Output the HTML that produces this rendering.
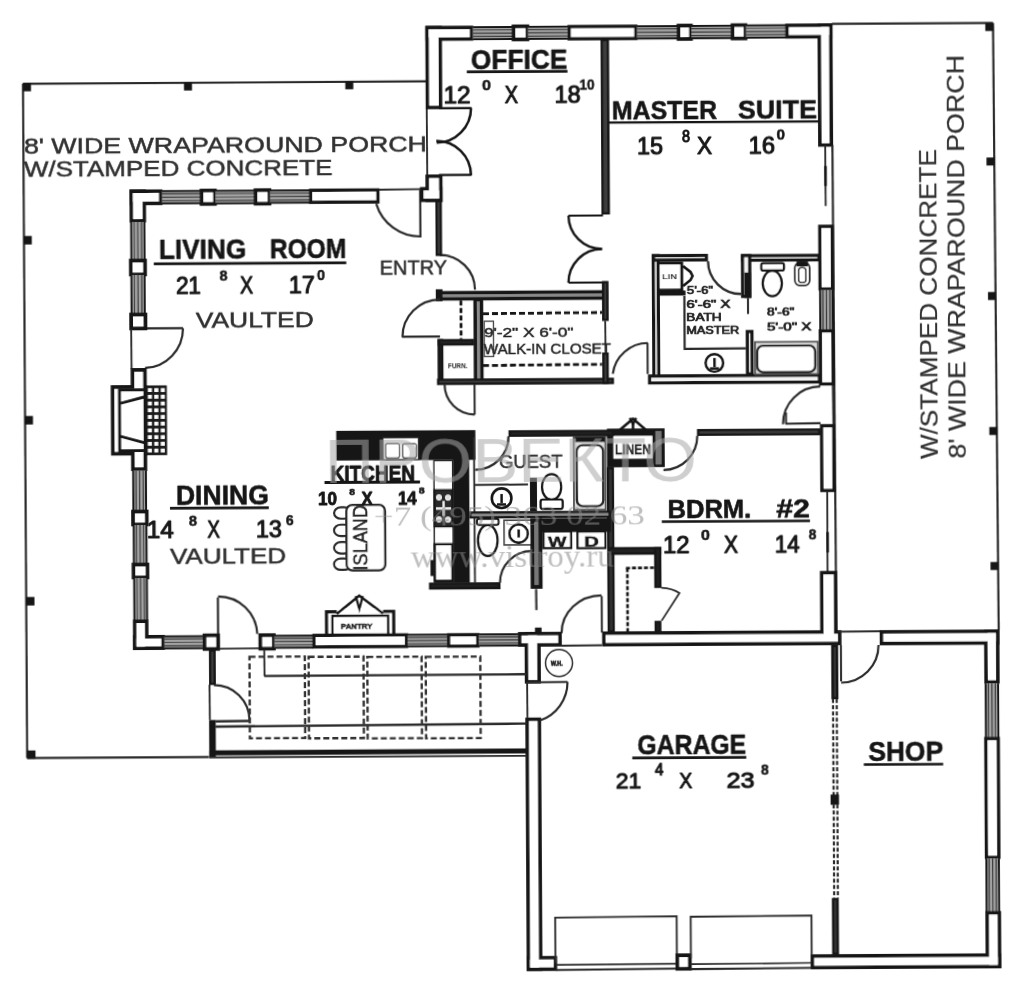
<!DOCTYPE html>
<html lang="en">
<head>
<meta charset="utf-8">
<title>Floor plan</title>
<style>
html,body{margin:0;padding:0;background:#fff;}
body{width:1022px;height:1000px;overflow:hidden;font-family:"Liberation Sans",sans-serif;}
svg{display:block;}
text{white-space:pre;}
</style>
</head>
<body>
<svg width="1022" height="1000" viewBox="0 0 1022 1000">
<defs>
<filter id="soft" x="-2%" y="-2%" width="104%" height="104%"><feGaussianBlur stdDeviation="0.7"/></filter>
</defs>
<rect width="1022" height="1000" fill="#fff"/>
<g transform="rotate(-0.3151 511 500)" filter="url(#soft)">
<path d="M25.29 81.12 L428.3 80.93" fill="none" stroke="#2a2a2a" stroke-width="2.17" stroke-linecap="butt" stroke-linejoin="miter"/>
<path d="M25.29 81.12 L25.78 755.34" fill="none" stroke="#2a2a2a" stroke-width="2.17" stroke-linecap="butt" stroke-linejoin="miter"/>
<path d="M25.78 755.34 L207.59 755.34" fill="none" stroke="#2a2a2a" stroke-width="2.17" stroke-linecap="butt" stroke-linejoin="miter"/>
<rect x="25.27" y="80.34" width="8" height="8.3" fill="#151515" />
<rect x="186.27" y="80.72" width="8" height="8" fill="#151515" />
<rect x="347.58" y="80.41" width="8" height="8" fill="#151515" />
<rect x="25.23" y="233.34" width="8" height="8.5" fill="#151515" />
<rect x="25.44" y="413.35" width="8" height="8.5" fill="#151515" />
<rect x="25.74" y="594.36" width="8.2" height="8.5" fill="#151515" />
<rect x="25.6" y="747.86" width="8.5" height="8.3" fill="#151515" />
<path d="M834.62 25.67 L995.62 25.65" fill="none" stroke="#2a2a2a" stroke-width="2.17" stroke-linecap="butt" stroke-linejoin="miter"/>
<path d="M995.62 25.65 L997.99 632.68" fill="none" stroke="#2a2a2a" stroke-width="2.17" stroke-linecap="butt" stroke-linejoin="miter"/>
<rect x="987.9" y="25.63" width="8.2" height="8" fill="#151515" />
<rect x="988.36" y="160.14" width="8" height="8" fill="#151515" />
<rect x="989.12" y="294.65" width="8" height="8" fill="#151515" />
<rect x="989.68" y="429.65" width="8" height="8" fill="#151515" />
<rect x="990.14" y="564.66" width="8" height="8" fill="#151515" />
<path d="M421.87 189.5 L421.87 237" fill="none" stroke="#2a2a2a" stroke-width="2.17" stroke-linecap="butt" stroke-linejoin="miter"/>
<path d="M422 236 A46 46 0 0 1 377.9 203.07" fill="none" stroke="#2a2a2a" stroke-width="2.17"/>
<path d="M145.94 326.39 L183.94 326.39" fill="none" stroke="#2a2a2a" stroke-width="2.17" stroke-linecap="butt" stroke-linejoin="miter"/>
<path d="M183.94 326.48 A39.5 39.5 0 0 1 145.82 365.95" fill="none" stroke="#2a2a2a" stroke-width="2.17"/>
<path d="M217.36 595.89 L217.36 633.39" fill="none" stroke="#2a2a2a" stroke-width="2.17" stroke-linecap="butt" stroke-linejoin="miter"/>
<path d="M217.55 594.89 A39 39 0 0 1 256.53 632.53" fill="none" stroke="#2a2a2a" stroke-width="2.17"/>
<path d="M428.87 107.54 L429.07 174.54" fill="none" stroke="#2a2a2a" stroke-width="1.86" stroke-linecap="butt" stroke-linejoin="miter"/>
<path d="M441.15 107.89 L473.65 107.89" fill="none" stroke="#151515" stroke-width="2.4" stroke-linecap="butt" stroke-linejoin="miter"/>
<path d="M473.15 107.79 A34.5 34.5 0 0 1 438.65 142.29" fill="none" stroke="#151515" stroke-width="2.5"/>
<path d="M440.79 174.69 L473.29 174.69" fill="none" stroke="#151515" stroke-width="2.2" stroke-linecap="butt" stroke-linejoin="miter"/>
<path d="M472.79 174.99 A34.5 34.5 0 0 0 438.29 140.49" fill="none" stroke="#151515" stroke-width="2.5"/>
<rect x="604.2" y="40.67" width="6.2" height="173.2" fill="#3c3c3c" stroke="#151515" stroke-width="2.3" />
<path d="M570.06 215.91 L604.56 215.91" fill="none" stroke="#151515" stroke-width="2" stroke-linecap="butt" stroke-linejoin="miter"/>
<path d="M570.06 216 A33.5 33.5 0 0 0 603.56 249.5" fill="none" stroke="#151515" stroke-width="2.4"/>
<path d="M569.7 282.91 L604.2 282.91" fill="none" stroke="#151515" stroke-width="2" stroke-linecap="butt" stroke-linejoin="miter"/>
<path d="M569.7 283 A33.5 33.5 0 0 1 603.2 249.5" fill="none" stroke="#151515" stroke-width="2.4"/>
<path d="M610.08 123.13 L821.08 123.09" fill="none" stroke="#151515" stroke-width="2.4" stroke-linecap="butt" stroke-linejoin="miter"/>
<path d="M441.15 254.61 A35 35 0 0 1 476.15 289.61" fill="none" stroke="#2a2a2a" stroke-width="2.17"/>
<rect x="438.83" y="292.36" width="168.6" height="6.2" fill="#8c8c8c" stroke="#151515" stroke-width="3.4" />
<rect x="436.93" y="288.9" width="6.7" height="12" fill="#151515" />
<path d="M402.9 336.11 L440.9 336.11" fill="none" stroke="#2a2a2a" stroke-width="2.33" stroke-linecap="butt" stroke-linejoin="miter"/>
<path d="M403.4 336.61 A37.5 37.5 0 0 1 440.9 299.11" fill="none" stroke="#2a2a2a" stroke-width="2.17"/>
<rect x="439.51" y="339.76" width="3.5" height="42.7" fill="#222" stroke="#151515" stroke-width="2.3" />
<rect x="476.17" y="299.52" width="6.4" height="82.6" fill="#8c8c8c" stroke="#151515" stroke-width="3.4" />
<rect x="439.62" y="339.85" width="34.1" height="4.3" fill="#222" stroke="#151515" stroke-width="2.3" />
<path d="M461.99 300.23 L461.99 338.73" fill="none" stroke="#151515" stroke-width="2.8" stroke-linecap="butt" stroke-linejoin="miter" stroke-dasharray="5 2.5"/>
<rect x="438.8" y="379.43" width="174.7" height="4.1" fill="#3c3c3c" stroke="#151515" stroke-width="2.3" />
<rect x="604.24" y="282.67" width="4.3" height="37.7" fill="#3c3c3c" stroke="#151515" stroke-width="2.3" />
<path d="M606.2 321.52 L606.4 353.02" fill="none" stroke="#2a2a2a" stroke-width="1.86" stroke-linecap="butt" stroke-linejoin="miter"/>
<rect x="604.17" y="354.17" width="4.2" height="29.2" fill="#3c3c3c" stroke="#151515" stroke-width="2.3" />
<path d="M484.03 313.57 L603.03 312.97" fill="none" stroke="#151515" stroke-width="2.8" stroke-linecap="butt" stroke-linejoin="miter" stroke-dasharray="6 3"/>
<path d="M483.74 365.37 L602.74 364.77" fill="none" stroke="#151515" stroke-width="2.8" stroke-linecap="butt" stroke-linejoin="miter" stroke-dasharray="6 3"/>
<rect x="485.14" y="321.13" width="9.3" height="35.3" fill="none" stroke="#444" stroke-width="1.3" />
<path d="M475.15 383.8 L475.15 414.3" fill="none" stroke="#2a2a2a" stroke-width="2.02" stroke-linecap="butt" stroke-linejoin="miter"/>
<path d="M475.24 414.3 A30 30 0 0 1 445.24 384.3" fill="none" stroke="#2a2a2a" stroke-width="2.17"/>
<rect x="654.6" y="256.4" width="4.8" height="126.6" fill="#f2f2f2" stroke="#151515" stroke-width="3.2" />
<rect x="654.93" y="256.53" width="52.8" height="4.4" fill="#f2f2f2" stroke="#151515" stroke-width="3.2" />
<rect x="743.93" y="257.08" width="76.3" height="4.4" fill="#f2f2f2" stroke="#151515" stroke-width="3.2" />
<rect x="650.27" y="376.83" width="169.8" height="6.8" fill="#f2f2f2" stroke="#151515" stroke-width="3.2" />
<path d="M709.31 262.26 A33 33 0 0 0 742.31 295.26" fill="none" stroke="#2a2a2a" stroke-width="2.33"/>
<rect x="743.83" y="256.89" width="7.2" height="40.8" fill="#f2f2f2" stroke="#151515" stroke-width="3.2" />
<rect x="745.68" y="273.8" width="6.5" height="25.5" fill="#151515" />
<path d="M749.07 299.3 L749.07 315.3" fill="none" stroke="#2a2a2a" stroke-width="2.02" stroke-linecap="butt" stroke-linejoin="miter"/>
<rect x="659.63" y="263.88" width="23.4" height="27" fill="#fff" stroke="#151515" stroke-width="2.8" />
<path d="M684.23 266.97 L691.73 272.97 L693.73 276.97 L691.73 280.97 L684.23 286.97" fill="none" stroke="#151515" stroke-width="2.63" stroke-linecap="butt" stroke-linejoin="miter"/>
<rect x="659.14" y="291.48" width="27.5" height="5" fill="#151515" />
<path d="M685.48 297.12 L685.48 349.92 L746.78 349.62" fill="none" stroke="#2a2a2a" stroke-width="2.17" stroke-linecap="butt" stroke-linejoin="miter"/>
<circle cx="715.15" cy="364.12" r="8.8" fill="none" stroke="#151515" stroke-width="2.4"/>
<path d="M715.26 359.12 L715.26 368.12" fill="none" stroke="#151515" stroke-width="2.48" stroke-linecap="butt" stroke-linejoin="miter"/>
<path d="M710.72 369.62 L719.72 369.62" fill="none" stroke="#151515" stroke-width="2.48" stroke-linecap="butt" stroke-linejoin="miter"/>
<rect x="748.21" y="332.91" width="4.6" height="42.3" fill="#f2f2f2" stroke="#151515" stroke-width="3.2" />
<ellipse cx="773.49" cy="284.84" rx="9.6" ry="12.8" fill="none" stroke="#151515" stroke-width="2.2"/>
<rect x="762.58" y="264.54" width="22.6" height="7.4" fill="#fff" stroke="#151515" stroke-width="2.2" rx="2" />
<rect x="796.14" y="264.5" width="14.7" height="22.6" fill="#fff" stroke="#2a2a2a" stroke-width="1.8" rx="5" />
<rect x="799.79" y="269.35" width="7.3" height="14.9" fill="#fff" stroke="#2a2a2a" stroke-width="1.5" rx="3" />
<rect x="797.8" y="263.1" width="11.5" height="5" fill="#151515" />
<rect x="755.88" y="343.42" width="62.8" height="32.2" fill="#ddd" stroke="#555" stroke-width="1.8" />
<rect x="757.98" y="347.11" width="58" height="26.6" fill="#fff" stroke="#2a2a2a" stroke-width="2.4" rx="6" />
<path d="M648.38 343.75 L648.38 374.75" fill="none" stroke="#2a2a2a" stroke-width="2.02" stroke-linecap="butt" stroke-linejoin="miter"/>
<path d="M648.67 343.75 A35.5 35.5 0 0 0 613.51 374.31" fill="none" stroke="#2a2a2a" stroke-width="2.17"/>
<path d="M833.42 386.77 L833.82 426.77" fill="none" stroke="#2a2a2a" stroke-width="1.86" stroke-linecap="butt" stroke-linejoin="miter"/>
<path d="M785.92 425.21 L820.92 424.91" fill="none" stroke="#2a2a2a" stroke-width="2.17" stroke-linecap="butt" stroke-linejoin="miter"/>
<path d="M786.45 414.01 L786.45 425.51" fill="none" stroke="#2a2a2a" stroke-width="2.02" stroke-linecap="butt" stroke-linejoin="miter"/>
<path d="M783.42 425.7 A37.5 37.5 0 0 1 820.92 388.2" fill="none" stroke="#2a2a2a" stroke-width="2.17"/>
<rect x="698.52" y="431.21" width="121.2" height="4.6" fill="#3c3c3c" stroke="#151515" stroke-width="2.3" />
<path d="M697.65 436.84 A34 34 0 0 1 663.65 470.84" fill="none" stroke="#2a2a2a" stroke-width="2.17"/>
<rect x="607.29" y="429.19" width="57.7" height="38.7" fill="#151515" />
<rect x="613.69" y="436.47" width="39.1" height="22.8" fill="#fff" />
<rect x="655.79" y="431.81" width="6" height="33.5" fill="#777" />
<path d="M616.91 433.27 L633.41 419.37 L649.21 433.27" fill="none" stroke="#151515" stroke-width="2.63" stroke-linecap="butt" stroke-linejoin="miter"/>
<path d="M630.23 418.67 L633.43 424.67 L636.63 418.67" fill="none" stroke="#151515" stroke-width="2.4" stroke-linecap="butt" stroke-linejoin="miter"/>
<path d="M633.4 423.67 L633.4 430.67" fill="none" stroke="#151515" stroke-width="2.6" stroke-linecap="butt" stroke-linejoin="miter"/>
<rect x="608.08" y="468.7" width="4.9" height="163.2" fill="#333" stroke="#151515" stroke-width="2.3" />
<rect x="608.27" y="548.83" width="51.7" height="5.5" fill="#222" stroke="#151515" stroke-width="2.3" />
<rect x="654.98" y="548.96" width="4.9" height="38.7" fill="#222" stroke="#151515" stroke-width="2.3" />
<rect x="655.05" y="622.76" width="4.5" height="9.9" fill="#222" stroke="#151515" stroke-width="2.3" />
<path transform="translate(660.92 588.63)" d="M0 0 Q11 0.5 18 5.4 L0 33" fill="none" stroke="#2a2a2a" stroke-width="1.8" />
<path d="M625.63 568.71 L654.13 568.51" fill="none" stroke="#151515" stroke-width="2.6" stroke-linecap="butt" stroke-linejoin="miter" stroke-dasharray="4 2"/>
<path d="M626.95 568.64 L626.95 632.64" fill="none" stroke="#151515" stroke-width="2.6" stroke-linecap="butt" stroke-linejoin="miter" stroke-dasharray="4 2"/>
<path d="M601.17 596.5 L601.17 633" fill="none" stroke="#2a2a2a" stroke-width="2.02" stroke-linecap="butt" stroke-linejoin="miter"/>
<path transform="translate(600.87 633.4)" d="M-40 0 A40 37.6 0 0 1 0 -37.6" fill="none" stroke="#2a2a2a" stroke-width="2.17" />
<rect x="336.6" y="429.92" width="139.1" height="29.7" fill="#151515" />
<rect x="383.38" y="437.29" width="35.3" height="21.7" fill="#fff" stroke="#333" stroke-width="1.2" />
<rect x="385.87" y="442.95" width="13.8" height="14.3" fill="#fff" stroke="#333" stroke-width="1.2" rx="2" />
<rect x="402.87" y="443.04" width="13.8" height="14.3" fill="#fff" stroke="#333" stroke-width="1.2" rx="2" />
<rect x="453.26" y="431.53" width="16.1" height="150.8" fill="#151515" />
<path d="M474.25 436.8 L474.55 582.2" fill="none" stroke="#2a2a2a" stroke-width="1.86" stroke-linecap="butt" stroke-linejoin="miter"/>
<rect x="429.68" y="583.3" width="69.2" height="4.7" fill="#222" stroke="#151515" stroke-width="2.3" />
<rect x="434.18" y="460.33" width="18.6" height="121.2" fill="#fff" stroke="#151515" stroke-width="1.4" />
<rect x="434.45" y="489.53" width="18.2" height="36.7" fill="#2a2a2a" stroke="#151515" stroke-width="1.8" />
<circle cx="439.01" cy="497.1" r="2.4" fill="#ddd" stroke="#eee" stroke-width="1.2"/>
<circle cx="448.01" cy="497.15" r="2.4" fill="#ddd" stroke="#eee" stroke-width="1.2"/>
<circle cx="438.89" cy="519.1" r="2.4" fill="#ddd" stroke="#eee" stroke-width="1.2"/>
<circle cx="447.89" cy="519.15" r="2.4" fill="#ddd" stroke="#eee" stroke-width="1.2"/>
<path d="M435.95 508.13 L450.95 508.13" fill="none" stroke="#eee" stroke-width="2.4" stroke-linecap="butt" stroke-linejoin="miter"/>
<path d="M443.55 500.63 L443.55 515.63" fill="none" stroke="#eee" stroke-width="2.4" stroke-linecap="butt" stroke-linejoin="miter"/>
<rect x="434.46" y="543.83" width="17.6" height="36.6" fill="#fff" stroke="#151515" stroke-width="2.4" />
<rect x="430.13" y="559.57" width="3.5" height="16" fill="#151515" />
<rect x="334.03" y="506.37" width="16.8" height="11.4" fill="#fff" stroke="#2a2a2a" stroke-width="2.2" rx="6.8" />
<rect x="333.93" y="523.77" width="16.8" height="11.4" fill="#fff" stroke="#2a2a2a" stroke-width="2.2" rx="6.8" />
<rect x="333.84" y="541.17" width="16.8" height="11.4" fill="#fff" stroke="#2a2a2a" stroke-width="2.2" rx="6.8" />
<rect x="333.75" y="557.57" width="16.8" height="11.4" fill="#fff" stroke="#2a2a2a" stroke-width="2.2" rx="6.8" />
<rect x="346.24" y="504.15" width="38.7" height="65.5" fill="#fff" stroke="#2a2a2a" stroke-width="2.3" rx="6" />
<rect x="325.92" y="610.77" width="67.1" height="24.3" fill="#fff" stroke="#151515" stroke-width="3.2" />
<rect x="336.38" y="608.17" width="46" height="6" fill="#fff" />
<rect x="331.81" y="614.97" width="55.7" height="20" fill="#fff" stroke="#151515" stroke-width="2.4" />
<path d="M336.12 613.07 L358.72 594.77 L382.42 612.67" fill="none" stroke="#151515" stroke-width="2.48" stroke-linecap="butt" stroke-linejoin="miter"/>
<path d="M355.24 595.17 L358.74 608.17 L362.24 595.17" fill="none" stroke="#151515" stroke-width="2.2" stroke-linecap="butt" stroke-linejoin="miter"/>
<rect x="510.02" y="431.43" width="103.2" height="4.3" fill="#222" stroke="#151515" stroke-width="2.3" />
<path d="M508.85 436.2 A33.5 33.5 0 0 1 475.35 469.7" fill="none" stroke="#2a2a2a" stroke-width="2.33"/>
<path d="M474.58 484.75 L528.08 484.55" fill="none" stroke="#2a2a2a" stroke-width="2.02" stroke-linecap="butt" stroke-linejoin="miter"/>
<circle cx="501.61" cy="498.15" r="9.8" fill="none" stroke="#151515" stroke-width="2.6"/>
<path d="M501.61 493.95 L501.61 502.95" fill="none" stroke="#151515" stroke-width="2.48" stroke-linecap="butt" stroke-linejoin="miter"/>
<path d="M496.98 504.45 L505.98 504.45" fill="none" stroke="#151515" stroke-width="2.48" stroke-linecap="butt" stroke-linejoin="miter"/>
<rect x="470.47" y="512.31" width="139.1" height="4.9" fill="#8a8a8a" stroke="#151515" stroke-width="2.3" />
<rect x="530.03" y="477.92" width="7" height="33.2" fill="#151515" />
<ellipse cx="551.67" cy="487.22" rx="9.6" ry="12.8" fill="none" stroke="#151515" stroke-width="2.2"/>
<rect x="540.58" y="499.82" width="22.1" height="9.3" fill="#fff" stroke="#151515" stroke-width="2.2" rx="2" />
<rect x="573.95" y="437.73" width="31.7" height="72.4" fill="#ddd" stroke="#555" stroke-width="1.8" />
<rect x="575.33" y="437.43" width="30" height="5" fill="#151515" />
<rect x="576.93" y="445.63" width="26.4" height="61" fill="#fff" stroke="#2a2a2a" stroke-width="2.4" rx="6" />
<rect x="539.66" y="518.55" width="71" height="13.8" fill="#151515" />
<rect x="543.28" y="531.85" width="27.6" height="16.5" fill="#fff" stroke="#151515" stroke-width="2.2" />
<rect x="577.28" y="532.04" width="27.8" height="16.5" fill="#fff" stroke="#151515" stroke-width="2.2" />
<ellipse cx="487.58" cy="540.37" rx="9.8" ry="15.5" fill="none" stroke="#151515" stroke-width="2.2"/>
<rect x="476.88" y="518.87" width="21.6" height="6" fill="#fff" stroke="#151515" stroke-width="2" rx="2" />
<rect x="503.92" y="520.24" width="27.1" height="24.7" fill="#fff" stroke="#444" stroke-width="1.6" />
<circle cx="518.42" cy="533.64" r="9.2" fill="none" stroke="#151515" stroke-width="2.6"/>
<path d="M518.42 529.54 L518.42 537.54" fill="none" stroke="#151515" stroke-width="2.79" stroke-linecap="butt" stroke-linejoin="miter"/>
<path d="M499.55 582.71 A31.5 31.5 0 0 1 531.05 551.21" fill="none" stroke="#2a2a2a" stroke-width="2.17"/>
<rect x="532.11" y="520.34" width="8.1" height="66.7" fill="#777" stroke="#151515" stroke-width="3.8" />
<path d="M535.65 589.14 L535.85 610.14" fill="none" stroke="#444" stroke-width="2.48" stroke-linecap="butt" stroke-linejoin="miter"/>
<rect x="534.28" y="627.75" width="6.6" height="5.6" fill="#151515" />
<rect x="427.88" y="25.46" width="48" height="15" fill="#151515"/>
<rect x="427.88" y="25.46" width="16.6" height="83.3" fill="#151515"/>
<rect x="431.38" y="28.96" width="41" height="8" fill="#fff"/>
<rect x="431.38" y="28.96" width="9.6" height="76.3" fill="#fff"/>
<rect x="475.57" y="27.1" width="40" height="12" fill="#a2a2a2"/>
<path d="M475.57 29.77 H515.57" stroke="#3a3a3a" stroke-width="1.2"/>
<path d="M475.57 33.1 H515.57" stroke="#3a3a3a" stroke-width="1.2"/>
<path d="M475.57 36.43 H515.57" stroke="#3a3a3a" stroke-width="1.2"/>
<path d="M475.57 27.1 H515.57 M475.57 39.1 H515.57" stroke="#151515" stroke-width="2"/>
<rect x="516.12" y="26.4" width="13.9" height="13.1" fill="#fff" stroke="#151515" stroke-width="3.7" />
<rect x="530.57" y="26.9" width="40" height="12.1" fill="#a2a2a2"/>
<path d="M530.57 29.59 H570.57" stroke="#3a3a3a" stroke-width="1.2"/>
<path d="M530.57 32.95 H570.57" stroke="#3a3a3a" stroke-width="1.2"/>
<path d="M530.57 36.32 H570.57" stroke="#3a3a3a" stroke-width="1.2"/>
<path d="M530.57 26.9 H570.57 M530.57 39 H570.57" stroke="#151515" stroke-width="2"/>
<rect x="571.72" y="26.95" width="66.7" height="12.2" fill="#fff" stroke="#151515" stroke-width="3.3" />
<rect x="639.57" y="27.01" width="41" height="12.3" fill="#a2a2a2"/>
<path d="M639.57 29.72 H680.57" stroke="#3a3a3a" stroke-width="1.2"/>
<path d="M639.57 33.16 H680.57" stroke="#3a3a3a" stroke-width="1.2"/>
<path d="M639.57 36.59 H680.57" stroke="#3a3a3a" stroke-width="1.2"/>
<path d="M639.57 27.01 H680.57 M639.57 39.31 H680.57" stroke="#151515" stroke-width="2"/>
<rect x="681.12" y="26.51" width="12.4" height="13.4" fill="#fff" stroke="#151515" stroke-width="3.7" />
<rect x="694.07" y="26.9" width="40.5" height="12.4" fill="#a2a2a2"/>
<path d="M694.07 29.64 H734.57" stroke="#3a3a3a" stroke-width="1.2"/>
<path d="M694.07 33.1 H734.57" stroke="#3a3a3a" stroke-width="1.2"/>
<path d="M694.07 36.57 H734.57" stroke="#3a3a3a" stroke-width="1.2"/>
<path d="M694.07 26.9 H734.57 M694.07 39.3 H734.57" stroke="#151515" stroke-width="2"/>
<rect x="735.13" y="26.4" width="12.9" height="13.3" fill="#fff" stroke="#151515" stroke-width="3.7" />
<rect x="748.58" y="26.8" width="40" height="12.1" fill="#a2a2a2"/>
<path d="M748.58 29.49 H788.58" stroke="#3a3a3a" stroke-width="1.2"/>
<path d="M748.58 32.85 H788.58" stroke="#3a3a3a" stroke-width="1.2"/>
<path d="M748.58 36.22 H788.58" stroke="#3a3a3a" stroke-width="1.2"/>
<path d="M748.58 26.8 H788.58 M748.58 38.9 H788.58" stroke="#151515" stroke-width="2"/>
<rect x="787.78" y="25.14" width="47.3" height="15" fill="#151515"/>
<rect x="820.08" y="25.14" width="15" height="123.3" fill="#151515"/>
<rect x="791.28" y="28.64" width="40.3" height="8" fill="#fff"/>
<rect x="823.58" y="28.64" width="8" height="116.3" fill="#fff"/>
<path d="M834.35 146.77 L835.67 633.79" fill="none" stroke="#2a2a2a" stroke-width="2.17" stroke-linecap="butt" stroke-linejoin="miter"/>
<path d="M827.15 146.73 L827.32 207.73" fill="none" stroke="#2a2a2a" stroke-width="1.86" stroke-linecap="butt" stroke-linejoin="miter"/>
<path d="M827.24 167.73 L827.23 187.73" fill="none" stroke="#151515" stroke-width="2.6" stroke-linecap="butt" stroke-linejoin="miter"/>
<rect x="821.28" y="228.08" width="12.4" height="62.5" fill="#fff" stroke="#151515" stroke-width="3.3" />
<rect x="821.25" y="291.73" width="12.5" height="39.7" fill="#a2a2a2"/>
<path d="M824 291.73 V331.43" stroke="#3a3a3a" stroke-width="1.2"/>
<path d="M827.5 291.73 V331.43" stroke="#3a3a3a" stroke-width="1.2"/>
<path d="M831 291.73 V331.43" stroke="#3a3a3a" stroke-width="1.2"/>
<path d="M821.25 291.73 V331.43 M833.75 291.73 V331.43" stroke="#151515" stroke-width="2"/>
<rect x="821.23" y="332.59" width="12.5" height="53" fill="#fff" stroke="#151515" stroke-width="3.3" />
<rect x="821.98" y="427.49" width="12.2" height="64.7" fill="#fff" stroke="#151515" stroke-width="3.3" />
<path d="M827.25 493.34 L827.2 574.74" fill="none" stroke="#2a2a2a" stroke-width="1.86" stroke-linecap="butt" stroke-linejoin="miter"/>
<path d="M827.32 533.74 L827.31 554.34" fill="none" stroke="#151515" stroke-width="2.6" stroke-linecap="butt" stroke-linejoin="miter"/>
<rect x="131.12" y="187.49" width="33" height="15.7" fill="#151515"/>
<rect x="131.12" y="187.49" width="16.5" height="33" fill="#151515"/>
<rect x="134.62" y="190.99" width="26" height="8.7" fill="#fff"/>
<rect x="134.62" y="190.99" width="9.5" height="26" fill="#fff"/>
<rect x="163.67" y="189.19" width="39" height="12.3" fill="#a2a2a2"/>
<path d="M163.67 191.9 H202.67" stroke="#3a3a3a" stroke-width="1.2"/>
<path d="M163.67 195.34 H202.67" stroke="#3a3a3a" stroke-width="1.2"/>
<path d="M163.67 198.77 H202.67" stroke="#3a3a3a" stroke-width="1.2"/>
<path d="M163.67 189.19 H202.67 M163.67 201.49 H202.67" stroke="#151515" stroke-width="2"/>
<rect x="203.22" y="188.88" width="13.4" height="13.4" fill="#fff" stroke="#151515" stroke-width="3.7" />
<rect x="217.17" y="189.28" width="39.5" height="12.4" fill="#a2a2a2"/>
<path d="M217.17 192.02 H256.67" stroke="#3a3a3a" stroke-width="1.2"/>
<path d="M217.17 195.48 H256.67" stroke="#3a3a3a" stroke-width="1.2"/>
<path d="M217.17 198.95 H256.67" stroke="#3a3a3a" stroke-width="1.2"/>
<path d="M217.17 189.28 H256.67 M217.17 201.68 H256.67" stroke="#151515" stroke-width="2"/>
<rect x="257.22" y="188.78" width="13.9" height="13.5" fill="#fff" stroke="#151515" stroke-width="3.7" />
<rect x="271.67" y="189.28" width="39.5" height="12.3" fill="#a2a2a2"/>
<path d="M271.67 192 H311.17" stroke="#3a3a3a" stroke-width="1.2"/>
<path d="M271.67 195.43 H311.17" stroke="#3a3a3a" stroke-width="1.2"/>
<path d="M271.67 198.87 H311.17" stroke="#3a3a3a" stroke-width="1.2"/>
<path d="M271.67 189.28 H311.17 M271.67 201.58 H311.17" stroke="#151515" stroke-width="2"/>
<rect x="312.32" y="189.23" width="67.2" height="12" fill="#fff" stroke="#151515" stroke-width="3.3" />
<path d="M380.71 188.99 L423.21 188.59" fill="none" stroke="#2a2a2a" stroke-width="1.86" stroke-linecap="butt" stroke-linejoin="miter"/>
<rect x="427.21" y="174.06" width="17" height="27.5" fill="#151515"/>
<rect x="421.71" y="186.56" width="22.5" height="15" fill="#151515"/>
<rect x="430.71" y="177.56" width="10" height="20.5" fill="#fff"/>
<rect x="425.21" y="190.06" width="15.5" height="8" fill="#fff"/>
<rect x="438.15" y="200.75" width="4.2" height="53.7" fill="#3c3c3c" stroke="#151515" stroke-width="2.3" />
<rect x="132.72" y="219.95" width="13.2" height="38" fill="#a2a2a2"/>
<path d="M135.59 219.95 V257.95" stroke="#3a3a3a" stroke-width="1.2"/>
<path d="M139.32 219.95 V257.95" stroke="#3a3a3a" stroke-width="1.2"/>
<path d="M143.06 219.95 V257.95" stroke="#3a3a3a" stroke-width="1.2"/>
<path d="M132.72 219.95 V257.95 M145.92 219.95 V257.95" stroke="#151515" stroke-width="2"/>
<rect x="132.13" y="258.5" width="14.2" height="13.9" fill="#fff" stroke="#151515" stroke-width="3.7" />
<rect x="132.63" y="272.95" width="13.2" height="39" fill="#a2a2a2"/>
<path d="M135.5 272.95 V311.95" stroke="#3a3a3a" stroke-width="1.2"/>
<path d="M139.23 272.95 V311.95" stroke="#3a3a3a" stroke-width="1.2"/>
<path d="M142.96 272.95 V311.95" stroke="#3a3a3a" stroke-width="1.2"/>
<path d="M132.63 272.95 V311.95 M145.83 272.95 V311.95" stroke="#151515" stroke-width="2"/>
<rect x="132.13" y="312.5" width="14.3" height="13.9" fill="#fff" stroke="#151515" stroke-width="3.7" />
<path d="M132.13 326.91 L132.33 366.91" fill="none" stroke="#2a2a2a" stroke-width="1.86" stroke-linecap="butt" stroke-linejoin="miter"/>
<rect x="131.34" y="366" width="16.1" height="103" fill="#151515"/>
<rect x="111.34" y="383" width="36.1" height="70.4" fill="#151515"/>
<rect x="135.04" y="369.7" width="8.7" height="95.6" fill="#fff"/>
<rect x="115.04" y="386.7" width="28.7" height="63" fill="#fff"/>
<path d="M143.94 387.71 L120.04 387.71 L120.04 448.51 L143.94 448.51" fill="none" stroke="#151515" stroke-width="3" stroke-linecap="butt" stroke-linejoin="miter"/>
<path d="M121.05 401.12 L145.55 394.72" fill="none" stroke="#151515" stroke-width="3" stroke-linecap="butt" stroke-linejoin="miter"/>
<path d="M120.83 434.12 L145.33 440.92" fill="none" stroke="#151515" stroke-width="3" stroke-linecap="butt" stroke-linejoin="miter"/>
<rect x="146.64" y="383.45" width="20.8" height="69.8" fill="#1c1c1c" />
<rect x="148.6" y="386.21" width="3.8" height="3.8" fill="#fff" />
<rect x="148.57" y="392.93" width="3.8" height="3.8" fill="#fff" />
<rect x="148.53" y="399.65" width="3.8" height="3.8" fill="#fff" />
<rect x="148.49" y="406.37" width="3.8" height="3.8" fill="#fff" />
<rect x="148.46" y="413.09" width="3.8" height="3.8" fill="#fff" />
<rect x="148.42" y="419.81" width="3.8" height="3.8" fill="#fff" />
<rect x="148.38" y="426.53" width="3.8" height="3.8" fill="#fff" />
<rect x="148.35" y="433.25" width="3.8" height="3.8" fill="#fff" />
<rect x="148.31" y="439.97" width="3.8" height="3.8" fill="#fff" />
<rect x="148.27" y="446.69" width="3.8" height="3.8" fill="#fff" />
<rect x="155.05" y="386.25" width="3.8" height="3.8" fill="#fff" />
<rect x="155.02" y="392.97" width="3.8" height="3.8" fill="#fff" />
<rect x="154.98" y="399.69" width="3.8" height="3.8" fill="#fff" />
<rect x="154.94" y="406.41" width="3.8" height="3.8" fill="#fff" />
<rect x="154.91" y="413.13" width="3.8" height="3.8" fill="#fff" />
<rect x="154.87" y="419.85" width="3.8" height="3.8" fill="#fff" />
<rect x="154.83" y="426.57" width="3.8" height="3.8" fill="#fff" />
<rect x="154.8" y="433.29" width="3.8" height="3.8" fill="#fff" />
<rect x="154.76" y="440.01" width="3.8" height="3.8" fill="#fff" />
<rect x="154.72" y="446.73" width="3.8" height="3.8" fill="#fff" />
<rect x="161.5" y="386.28" width="3.8" height="3.8" fill="#fff" />
<rect x="161.47" y="393" width="3.8" height="3.8" fill="#fff" />
<rect x="161.43" y="399.72" width="3.8" height="3.8" fill="#fff" />
<rect x="161.39" y="406.44" width="3.8" height="3.8" fill="#fff" />
<rect x="161.36" y="413.16" width="3.8" height="3.8" fill="#fff" />
<rect x="161.32" y="419.88" width="3.8" height="3.8" fill="#fff" />
<rect x="161.28" y="426.6" width="3.8" height="3.8" fill="#fff" />
<rect x="161.25" y="433.32" width="3.8" height="3.8" fill="#fff" />
<rect x="161.21" y="440.04" width="3.8" height="3.8" fill="#fff" />
<rect x="161.17" y="446.76" width="3.8" height="3.8" fill="#fff" />
<rect x="133.35" y="468.46" width="12.7" height="40.5" fill="#a2a2a2"/>
<path d="M136.13 468.46 V508.96" stroke="#3a3a3a" stroke-width="1.2"/>
<path d="M139.7 468.46 V508.96" stroke="#3a3a3a" stroke-width="1.2"/>
<path d="M143.27 468.46 V508.96" stroke="#3a3a3a" stroke-width="1.2"/>
<path d="M133.35 468.46 V508.96 M146.05 468.46 V508.96" stroke="#151515" stroke-width="2"/>
<rect x="132.95" y="509.51" width="13.7" height="12.9" fill="#fff" stroke="#151515" stroke-width="3.7" />
<rect x="133.56" y="522.96" width="12.7" height="39" fill="#a2a2a2"/>
<path d="M136.34 522.96 V561.96" stroke="#3a3a3a" stroke-width="1.2"/>
<path d="M139.91 522.96 V561.96" stroke="#3a3a3a" stroke-width="1.2"/>
<path d="M143.47 522.96 V561.96" stroke="#3a3a3a" stroke-width="1.2"/>
<path d="M133.56 522.96 V561.96 M146.26 522.96 V561.96" stroke="#151515" stroke-width="2"/>
<rect x="133.16" y="562.51" width="13.9" height="12.9" fill="#fff" stroke="#151515" stroke-width="3.7" />
<rect x="133.76" y="575.96" width="12.7" height="42" fill="#a2a2a2"/>
<path d="M136.54 575.96 V617.96" stroke="#3a3a3a" stroke-width="1.2"/>
<path d="M140.11 575.96 V617.96" stroke="#3a3a3a" stroke-width="1.2"/>
<path d="M143.67 575.96 V617.96" stroke="#3a3a3a" stroke-width="1.2"/>
<path d="M133.76 575.96 V617.96 M146.46 575.96 V617.96" stroke="#151515" stroke-width="2"/>
<rect x="132.26" y="617.51" width="15.5" height="30.5" fill="#151515"/>
<rect x="132.26" y="633.01" width="31.9" height="15" fill="#151515"/>
<rect x="135.76" y="621.01" width="8.5" height="23.5" fill="#fff"/>
<rect x="135.76" y="636.51" width="24.9" height="8" fill="#fff"/>
<rect x="163.62" y="634.5" width="39.6" height="12" fill="#a2a2a2"/>
<path d="M163.62 637.17 H203.22" stroke="#3a3a3a" stroke-width="1.2"/>
<path d="M163.62 640.5 H203.22" stroke="#3a3a3a" stroke-width="1.2"/>
<path d="M163.62 643.84 H203.22" stroke="#3a3a3a" stroke-width="1.2"/>
<path d="M163.62 634.5 H203.22 M163.62 646.5 H203.22" stroke="#151515" stroke-width="2"/>
<rect x="203.77" y="633.7" width="13.6" height="13.6" fill="#fff" stroke="#151515" stroke-width="3.7" />
<path d="M217.88 647.11 L258.98 646.81" fill="none" stroke="#2a2a2a" stroke-width="1.86" stroke-linecap="butt" stroke-linejoin="miter"/>
<rect x="259.57" y="633.81" width="13.5" height="13.5" fill="#fff" stroke="#151515" stroke-width="3.7" />
<rect x="273.62" y="634.4" width="38.6" height="12" fill="#a2a2a2"/>
<path d="M273.62 637.07 H312.22" stroke="#3a3a3a" stroke-width="1.2"/>
<path d="M273.62 640.4 H312.22" stroke="#3a3a3a" stroke-width="1.2"/>
<path d="M273.62 643.74 H312.22" stroke="#3a3a3a" stroke-width="1.2"/>
<path d="M273.62 634.4 H312.22 M273.62 646.4 H312.22" stroke="#151515" stroke-width="2"/>
<rect x="313.28" y="634.32" width="92.5" height="11.5" fill="#fff" stroke="#151515" stroke-width="3.3" />
<rect x="406.93" y="634.34" width="39.8" height="11.5" fill="#a2a2a2"/>
<path d="M406.93 636.92 H446.73" stroke="#3a3a3a" stroke-width="1.2"/>
<path d="M406.93 640.09 H446.73" stroke="#3a3a3a" stroke-width="1.2"/>
<path d="M406.93 643.26 H446.73" stroke="#3a3a3a" stroke-width="1.2"/>
<path d="M406.93 634.34 H446.73 M406.93 645.84 H446.73" stroke="#151515" stroke-width="2"/>
<rect x="447.88" y="634.49" width="29.2" height="11.3" fill="#fff" stroke="#151515" stroke-width="3.3" />
<rect x="478.23" y="634.23" width="39.5" height="11.3" fill="#a2a2a2"/>
<path d="M478.23 636.78 H517.73" stroke="#3a3a3a" stroke-width="1.2"/>
<path d="M478.23 639.88 H517.73" stroke="#3a3a3a" stroke-width="1.2"/>
<path d="M478.23 642.98 H517.73" stroke="#3a3a3a" stroke-width="1.2"/>
<path d="M478.23 634.23 H517.73 M478.23 645.53 H517.73" stroke="#151515" stroke-width="2"/>
<rect x="517.23" y="632.06" width="43.8" height="14.8" fill="#151515"/>
<rect x="523.83" y="632.06" width="16.1" height="51.6" fill="#151515"/>
<rect x="520.73" y="635.56" width="36.8" height="7.8" fill="#fff"/>
<rect x="527.33" y="635.56" width="9.1" height="44.6" fill="#fff"/>
<path d="M561 645.99 L601.2 645.79" fill="none" stroke="#2a2a2a" stroke-width="1.86" stroke-linecap="butt" stroke-linejoin="miter"/>
<rect x="601.4" y="631.96" width="239.3" height="15" fill="#151515"/>
<rect x="819.5" y="572.66" width="17.3" height="69" fill="#151515"/>
<rect x="604.9" y="635.46" width="232.3" height="8" fill="#fff"/>
<rect x="823" y="576.16" width="10.3" height="62" fill="#fff"/>
<path d="M837.28 633.51 L879.58 633.21" fill="none" stroke="#2a2a2a" stroke-width="1.86" stroke-linecap="butt" stroke-linejoin="miter"/>
<rect x="878.94" y="632.16" width="119.7" height="15.2" fill="#151515"/>
<rect x="983.34" y="632.16" width="15.3" height="54.2" fill="#151515"/>
<rect x="882.44" y="635.66" width="112.7" height="8.2" fill="#fff"/>
<rect x="986.84" y="635.66" width="8.3" height="47.2" fill="#fff"/>
<rect x="984.64" y="686.15" width="12.4" height="53.9" fill="#a2a2a2"/>
<path d="M987.38 686.15 V740.05" stroke="#3a3a3a" stroke-width="1.2"/>
<path d="M990.84 686.15 V740.05" stroke="#3a3a3a" stroke-width="1.2"/>
<path d="M994.31 686.15 V740.05" stroke="#3a3a3a" stroke-width="1.2"/>
<path d="M984.64 686.15 V740.05 M997.04 686.15 V740.05" stroke="#151515" stroke-width="2"/>
<rect x="984.51" y="741.2" width="12.4" height="118.8" fill="#fff" stroke="#151515" stroke-width="3.3" />
<rect x="984.38" y="861.15" width="12.5" height="53.5" fill="#a2a2a2"/>
<path d="M987.13 861.15 V914.65" stroke="#3a3a3a" stroke-width="1.2"/>
<path d="M990.63 861.15 V914.65" stroke="#3a3a3a" stroke-width="1.2"/>
<path d="M994.13 861.15 V914.65" stroke="#3a3a3a" stroke-width="1.2"/>
<path d="M984.38 861.15 V914.65 M996.88 861.15 V914.65" stroke="#151515" stroke-width="2"/>
<rect x="983.08" y="913.67" width="15.7" height="57.3" fill="#151515"/>
<rect x="808.08" y="955.97" width="190.7" height="15" fill="#151515"/>
<rect x="986.58" y="917.17" width="8.7" height="50.3" fill="#fff"/>
<rect x="811.58" y="959.47" width="183.7" height="8" fill="#fff"/>
<rect x="831.5" y="647.93" width="4.7" height="51.9" fill="#333" stroke="#151515" stroke-width="2.3" />
<path d="M831.91 700.77 L832.01 899.78" fill="none" stroke="#2a2a2a" stroke-width="2.17" stroke-linecap="butt" stroke-linejoin="miter" stroke-dasharray="4 2.2"/>
<path d="M835.61 700.79 L835.71 899.8" fill="none" stroke="#2a2a2a" stroke-width="2.17" stroke-linecap="butt" stroke-linejoin="miter" stroke-dasharray="4 2.2"/>
<rect x="828.95" y="796.38" width="8.4" height="10.2" fill="#151515" />
<rect x="830.8" y="900.93" width="4.6" height="54.7" fill="#333" stroke="#151515" stroke-width="2.3" />
<rect x="524.11" y="717.67" width="15.8" height="253.5" fill="#151515"/>
<rect x="524.11" y="956.17" width="30.5" height="15" fill="#151515"/>
<rect x="527.61" y="721.17" width="8.8" height="246.5" fill="#fff"/>
<rect x="527.61" y="959.67" width="23.5" height="8" fill="#fff"/>
<path d="M552.88 963.38 L552.88 917.88 L674.38 917.18 L674.38 958.58" fill="none" stroke="#2a2a2a" stroke-width="1.86" stroke-linecap="butt" stroke-linejoin="miter"/>
<path d="M553.45 965.18 L674.45 964.58" fill="none" stroke="#2a2a2a" stroke-width="1.71" stroke-linecap="butt" stroke-linejoin="miter"/>
<path d="M553.42 970.18 L674.42 969.58" fill="none" stroke="#2a2a2a" stroke-width="2.02" stroke-linecap="butt" stroke-linejoin="miter"/>
<rect x="674.81" y="956.2" width="12.5" height="13.5" fill="#fff" stroke="#151515" stroke-width="3.7" />
<path d="M688.4 959.32 L688.4 917.72 L809.2 917.12 L809.2 957.32" fill="none" stroke="#2a2a2a" stroke-width="1.86" stroke-linecap="butt" stroke-linejoin="miter"/>
<path d="M687.85 965.12 L808.45 964.52" fill="none" stroke="#2a2a2a" stroke-width="1.71" stroke-linecap="butt" stroke-linejoin="miter"/>
<path d="M687.82 970.12 L808.42 969.52" fill="none" stroke="#2a2a2a" stroke-width="2.02" stroke-linecap="butt" stroke-linejoin="miter"/>
<path d="M840.1 646.82 L840.1 683.21" fill="none" stroke="#2a2a2a" stroke-width="2.02" stroke-linecap="butt" stroke-linejoin="miter"/>
<path d="M840.2 684.52 A37.5 37.5 0 0 0 877.7 647.02" fill="none" stroke="#2a2a2a" stroke-width="2.17"/>
<circle cx="558.1" cy="663.26" r="13.5" fill="none" stroke="#2a2a2a" stroke-width="1.5"/>
<path d="M525.8 682.5 L566.5 682.3" fill="none" stroke="#2a2a2a" stroke-width="2.02" stroke-linecap="butt" stroke-linejoin="miter"/>
<path d="M566.5 682.29 A40.5 40.5 0 0 1 538.51 720.81" fill="none" stroke="#2a2a2a" stroke-width="2.17"/>
<path d="M526.1 682.09 L526.3 718.09" fill="none" stroke="#2a2a2a" stroke-width="1.86" stroke-linecap="butt" stroke-linejoin="miter"/>
<rect x="209.23" y="649.01" width="4.5" height="33.2" fill="#3c3c3c" stroke="#151515" stroke-width="2.3" />
<path d="M208.49 683.04 L208.69 718.34" fill="none" stroke="#2a2a2a" stroke-width="1.86" stroke-linecap="butt" stroke-linejoin="miter"/>
<path d="M212.79 683.37 A35.5 35.5 0 0 1 248.29 718.87" fill="none" stroke="#2a2a2a" stroke-width="2.17"/>
<path d="M214.28 719.67 L248.78 719.47" fill="none" stroke="#2a2a2a" stroke-width="2.48" stroke-linecap="butt" stroke-linejoin="miter"/>
<rect x="207.89" y="718.36" width="6.6" height="37" fill="#151515" />
<path d="M207.91 751.14 L525.42 751.09" fill="none" stroke="#151515" stroke-width="5" stroke-linecap="butt" stroke-linejoin="miter"/>
<path d="M207.88 755.74 L525.39 755.89" fill="none" stroke="#2a2a2a" stroke-width="1.86" stroke-linecap="butt" stroke-linejoin="miter"/>
<path d="M263.4 648.14 L263.6 674.64" fill="none" stroke="#2a2a2a" stroke-width="1.86" stroke-linecap="butt" stroke-linejoin="miter"/>
<path d="M263.33 674.64 L525.54 674.29" fill="none" stroke="#2a2a2a" stroke-width="2.33" stroke-linecap="butt" stroke-linejoin="miter"/>
<path d="M214.25 724.97 L525.27 723.69" fill="none" stroke="#2a2a2a" stroke-width="2.33" stroke-linecap="butt" stroke-linejoin="miter"/>
<path d="M248.61 655.41 L303.91 655.41 L303.91 736.91 L248.61 736.91 Z" fill="none" stroke="#333" stroke-width="2.33" stroke-linecap="butt" stroke-linejoin="miter" stroke-dasharray="6 3"/>
<path d="M307.71 655.74 L362.61 655.74 L362.61 737.24 L307.71 737.24 Z" fill="none" stroke="#333" stroke-width="2.33" stroke-linecap="butt" stroke-linejoin="miter" stroke-dasharray="6 3"/>
<path d="M366.41 656.06 L420.71 656.06 L420.71 737.56 L366.41 737.56 Z" fill="none" stroke="#333" stroke-width="2.33" stroke-linecap="butt" stroke-linejoin="miter" stroke-dasharray="6 3"/>
<path d="M424.81 656.38 L479.41 656.38 L479.41 737.88 L424.81 737.88 Z" fill="none" stroke="#333" stroke-width="2.33" stroke-linecap="butt" stroke-linejoin="miter" stroke-dasharray="6 3"/>
<text x="521.62" y="68.85" font-family="'Liberation Sans', sans-serif" font-size="27.23" font-weight="bold" fill="#151515" text-anchor="middle" textLength="96.5" lengthAdjust="spacingAndGlyphs"  stroke="#151515" stroke-width="0.55" stroke-linejoin="round">OFFICE</text>
<path d="M469.16 71.63 L569.86 71.63" fill="none" stroke="#151515" stroke-width="2.8" stroke-linecap="butt" stroke-linejoin="miter"/>
<text x="459.18" y="103.1" font-family="'Liberation Sans', sans-serif" font-size="23.46" font-weight="normal" fill="#151515" text-anchor="middle" textLength="27" lengthAdjust="spacingAndGlyphs"  stroke="#151515" stroke-width="1.05" stroke-linejoin="round">12</text>
<text x="488.75" y="90.37" font-family="'Liberation Sans', sans-serif" font-size="14.66" font-weight="bold" fill="#151515" text-anchor="middle" textLength="9" lengthAdjust="spacingAndGlyphs"  stroke="#151515" stroke-width="0.5">0</text>
<text x="513.58" y="103" font-family="'Liberation Sans', sans-serif" font-size="23.46" font-weight="normal" fill="#151515" text-anchor="middle" textLength="13.2" lengthAdjust="spacingAndGlyphs"  stroke="#151515" stroke-width="1.05" stroke-linejoin="round">X</text>
<text x="569.84" y="102.91" font-family="'Liberation Sans', sans-serif" font-size="23.46" font-weight="normal" fill="#151515" text-anchor="middle" textLength="26.3" lengthAdjust="spacingAndGlyphs"  stroke="#151515" stroke-width="1.05" stroke-linejoin="round">18</text>
<text x="589.25" y="90.42" font-family="'Liberation Sans', sans-serif" font-size="14.66" font-weight="bold" fill="#151515" text-anchor="middle" textLength="15" lengthAdjust="spacingAndGlyphs"  stroke="#151515" stroke-width="0.5">10</text>
<text x="666.6" y="119.84" font-family="'Liberation Sans', sans-serif" font-size="26.54" font-weight="bold" fill="#151515" text-anchor="middle" textLength="105" lengthAdjust="spacingAndGlyphs"  stroke="#151515" stroke-width="0.55" stroke-linejoin="round">MASTER</text>
<text x="779.6" y="119.67" font-family="'Liberation Sans', sans-serif" font-size="26.54" font-weight="bold" fill="#151515" text-anchor="middle" textLength="79" lengthAdjust="spacingAndGlyphs"  stroke="#151515" stroke-width="0.55" stroke-linejoin="round">SUITE</text>
<text x="651.9" y="154.76" font-family="'Liberation Sans', sans-serif" font-size="23.74" font-weight="normal" fill="#151515" text-anchor="middle" textLength="26" lengthAdjust="spacingAndGlyphs"  stroke="#151515" stroke-width="1.05" stroke-linejoin="round">15</text>
<text x="687.97" y="143.46" font-family="'Liberation Sans', sans-serif" font-size="16.06" font-weight="normal" fill="#151515" text-anchor="middle" textLength="8" lengthAdjust="spacingAndGlyphs"  stroke="#151515" stroke-width="1.05" stroke-linejoin="round">8</text>
<text x="706.4" y="154.86" font-family="'Liberation Sans', sans-serif" font-size="23.74" font-weight="normal" fill="#151515" text-anchor="middle" textLength="15" lengthAdjust="spacingAndGlyphs"  stroke="#151515" stroke-width="1.05" stroke-linejoin="round">X</text>
<text x="763.66" y="154.58" font-family="'Liberation Sans', sans-serif" font-size="23.74" font-weight="normal" fill="#151515" text-anchor="middle" textLength="26.5" lengthAdjust="spacingAndGlyphs"  stroke="#151515" stroke-width="1.05" stroke-linejoin="round">16</text>
<text x="782.73" y="141.48" font-family="'Liberation Sans', sans-serif" font-size="15.36" font-weight="bold" fill="#151515" text-anchor="middle" textLength="8.5" lengthAdjust="spacingAndGlyphs"  stroke="#151515" stroke-width="0.5">0</text>
<text x="203.88" y="257.3" font-family="'Liberation Sans', sans-serif" font-size="26.96" font-weight="bold" fill="#151515" text-anchor="middle" textLength="87.5" lengthAdjust="spacingAndGlyphs"  stroke="#151515" stroke-width="0.55" stroke-linejoin="round">LIVING</text>
<text x="309.48" y="257.28" font-family="'Liberation Sans', sans-serif" font-size="26.96" font-weight="bold" fill="#151515" text-anchor="middle" textLength="76.3" lengthAdjust="spacingAndGlyphs"  stroke="#151515" stroke-width="0.55" stroke-linejoin="round">ROOM</text>
<path d="M155.1 261.86 L347.6 261.86" fill="none" stroke="#151515" stroke-width="2.8" stroke-linecap="butt" stroke-linejoin="miter"/>
<text x="189.63" y="292.03" font-family="'Liberation Sans', sans-serif" font-size="23.04" font-weight="normal" fill="#151515" text-anchor="middle" textLength="25" lengthAdjust="spacingAndGlyphs"  stroke="#151515" stroke-width="1.05" stroke-linejoin="round">21</text>
<text x="224.71" y="278.92" font-family="'Liberation Sans', sans-serif" font-size="14.66" font-weight="bold" fill="#151515" text-anchor="middle" textLength="8" lengthAdjust="spacingAndGlyphs"  stroke="#151515" stroke-width="0.5">8</text>
<text x="247.64" y="292.15" font-family="'Liberation Sans', sans-serif" font-size="23.04" font-weight="normal" fill="#151515" text-anchor="middle" textLength="13" lengthAdjust="spacingAndGlyphs"  stroke="#151515" stroke-width="1.05" stroke-linejoin="round">X</text>
<text x="303.14" y="292.15" font-family="'Liberation Sans', sans-serif" font-size="23.04" font-weight="normal" fill="#151515" text-anchor="middle" textLength="26" lengthAdjust="spacingAndGlyphs"  stroke="#151515" stroke-width="1.05" stroke-linejoin="round">17</text>
<text x="322.21" y="278.95" font-family="'Liberation Sans', sans-serif" font-size="14.94" font-weight="bold" fill="#151515" text-anchor="middle" textLength="8" lengthAdjust="spacingAndGlyphs"  stroke="#151515" stroke-width="0.5">0</text>
<text x="222.37" y="503.41" font-family="'Liberation Sans', sans-serif" font-size="27.23" font-weight="bold" fill="#151515" text-anchor="middle" textLength="92.8" lengthAdjust="spacingAndGlyphs"  stroke="#151515" stroke-width="0.55" stroke-linejoin="round">DINING</text>
<path d="M169.96 506.4 L268.76 506.4" fill="none" stroke="#151515" stroke-width="2.8" stroke-linecap="butt" stroke-linejoin="miter"/>
<text x="160.19" y="536.37" font-family="'Liberation Sans', sans-serif" font-size="23.04" font-weight="normal" fill="#151515" text-anchor="middle" textLength="26.8" lengthAdjust="spacingAndGlyphs"  stroke="#151515" stroke-width="1.05" stroke-linejoin="round">14</text>
<text x="192.76" y="523.75" font-family="'Liberation Sans', sans-serif" font-size="14.66" font-weight="bold" fill="#151515" text-anchor="middle" textLength="8.2" lengthAdjust="spacingAndGlyphs"  stroke="#151515" stroke-width="0.5">8</text>
<text x="213.54" y="536.37" font-family="'Liberation Sans', sans-serif" font-size="23.04" font-weight="normal" fill="#151515" text-anchor="middle" textLength="12.5" lengthAdjust="spacingAndGlyphs"  stroke="#151515" stroke-width="1.05" stroke-linejoin="round">X</text>
<text x="268.79" y="536.47" font-family="'Liberation Sans', sans-serif" font-size="23.04" font-weight="normal" fill="#151515" text-anchor="middle" textLength="26" lengthAdjust="spacingAndGlyphs"  stroke="#151515" stroke-width="1.05" stroke-linejoin="round">13</text>
<text x="289.76" y="523.78" font-family="'Liberation Sans', sans-serif" font-size="14.66" font-weight="bold" fill="#151515" text-anchor="middle" textLength="7.8" lengthAdjust="spacingAndGlyphs"  stroke="#151515" stroke-width="0.5">6</text>
<text x="372.91" y="479.74" font-family="'Liberation Sans', sans-serif" font-size="22.63" font-weight="bold" fill="#151515" text-anchor="middle" textLength="84.4" lengthAdjust="spacingAndGlyphs" stroke="#151515" stroke-width="0.9" stroke-linejoin="round">KITCHEN</text>
<path d="M324.6 481.44 L420.1 481.44" fill="none" stroke="#151515" stroke-width="3" stroke-linecap="butt" stroke-linejoin="miter"/>
<text x="327.47" y="503.99" font-family="'Liberation Sans', sans-serif" font-size="18.99" font-weight="bold" fill="#151515" text-anchor="middle" textLength="19" lengthAdjust="spacingAndGlyphs" stroke="#151515" stroke-width="0.9" stroke-linejoin="round">10</text>
<text x="352.13" y="493.93" font-family="'Liberation Sans', sans-serif" font-size="9.22" font-weight="bold" fill="#151515" text-anchor="middle" textLength="5.8" lengthAdjust="spacingAndGlyphs"  stroke="#151515" stroke-width="0.5">8</text>
<text x="367.17" y="504.11" font-family="'Liberation Sans', sans-serif" font-size="18.99" font-weight="bold" fill="#151515" text-anchor="middle" textLength="11.2" lengthAdjust="spacingAndGlyphs" stroke="#151515" stroke-width="0.9" stroke-linejoin="round">X</text>
<text x="407.37" y="504.13" font-family="'Liberation Sans', sans-serif" font-size="18.99" font-weight="bold" fill="#151515" text-anchor="middle" textLength="18.8" lengthAdjust="spacingAndGlyphs" stroke="#151515" stroke-width="0.9" stroke-linejoin="round">14</text>
<text x="421.84" y="492.91" font-family="'Liberation Sans', sans-serif" font-size="9.78" font-weight="bold" fill="#151515" text-anchor="middle" textLength="6" lengthAdjust="spacingAndGlyphs"  stroke="#151515" stroke-width="0.5">8</text>
<text x="709.4" y="518.69" font-family="'Liberation Sans', sans-serif" font-size="24.86" font-weight="bold" fill="#151515" text-anchor="middle" textLength="83.6" lengthAdjust="spacingAndGlyphs"  stroke="#151515" stroke-width="0.55" stroke-linejoin="round">BDRM.</text>
<text x="793.05" y="518.85" font-family="'Liberation Sans', sans-serif" font-size="24.86" font-weight="bold" fill="#151515" text-anchor="middle" textLength="33.7" lengthAdjust="spacingAndGlyphs"  stroke="#151515" stroke-width="0.55" stroke-linejoin="round">#2</text>
<path d="M661.68 522.44 L809.88 522.44" fill="none" stroke="#151515" stroke-width="2.6" stroke-linecap="butt" stroke-linejoin="miter"/>
<text x="676.06" y="553.71" font-family="'Liberation Sans', sans-serif" font-size="23.74" font-weight="normal" fill="#151515" text-anchor="middle" textLength="26.7" lengthAdjust="spacingAndGlyphs"  stroke="#151515" stroke-width="1.05" stroke-linejoin="round">12</text>
<text x="705.28" y="541.07" font-family="'Liberation Sans', sans-serif" font-size="15.36" font-weight="bold" fill="#151515" text-anchor="middle" textLength="9" lengthAdjust="spacingAndGlyphs"  stroke="#151515" stroke-width="0.5">0</text>
<text x="730.71" y="553.71" font-family="'Liberation Sans', sans-serif" font-size="23.74" font-weight="normal" fill="#151515" text-anchor="middle" textLength="14" lengthAdjust="spacingAndGlyphs"  stroke="#151515" stroke-width="1.05" stroke-linejoin="round">X</text>
<text x="787.01" y="553.72" font-family="'Liberation Sans', sans-serif" font-size="23.74" font-weight="normal" fill="#151515" text-anchor="middle" textLength="25" lengthAdjust="spacingAndGlyphs"  stroke="#151515" stroke-width="1.05" stroke-linejoin="round">14</text>
<text x="812.23" y="541.16" font-family="'Liberation Sans', sans-serif" font-size="15.36" font-weight="bold" fill="#151515" text-anchor="middle" textLength="7.7" lengthAdjust="spacingAndGlyphs"  stroke="#151515" stroke-width="0.5">8</text>
<text x="690.45" y="755.19" font-family="'Liberation Sans', sans-serif" font-size="26.96" font-weight="bold" fill="#151515" text-anchor="middle" textLength="108.9" lengthAdjust="spacingAndGlyphs"  stroke="#151515" stroke-width="0.55" stroke-linejoin="round">GARAGE</text>
<path d="M630.88 758.58 L744.88 758.58" fill="none" stroke="#151515" stroke-width="2.6" stroke-linecap="butt" stroke-linejoin="miter"/>
<text x="626.92" y="788.65" font-family="'Liberation Sans', sans-serif" font-size="22.77" font-weight="normal" fill="#151515" text-anchor="middle" textLength="25.4" lengthAdjust="spacingAndGlyphs"  stroke="#151515" stroke-width="1.05" stroke-linejoin="round">21</text>
<text x="657.73" y="776.42" font-family="'Liberation Sans', sans-serif" font-size="16.2" font-weight="normal" fill="#151515" text-anchor="middle" textLength="8.5" lengthAdjust="spacingAndGlyphs"  stroke="#151515" stroke-width="1.05" stroke-linejoin="round">4</text>
<text x="684.27" y="788.76" font-family="'Liberation Sans', sans-serif" font-size="22.77" font-weight="normal" fill="#151515" text-anchor="middle" textLength="12.9" lengthAdjust="spacingAndGlyphs"  stroke="#151515" stroke-width="1.05" stroke-linejoin="round">X</text>
<text x="738.92" y="788.76" font-family="'Liberation Sans', sans-serif" font-size="22.77" font-weight="normal" fill="#151515" text-anchor="middle" textLength="28" lengthAdjust="spacingAndGlyphs"  stroke="#151515" stroke-width="1.05" stroke-linejoin="round">23</text>
<text x="763.39" y="776.4" font-family="'Liberation Sans', sans-serif" font-size="15.36" font-weight="bold" fill="#151515" text-anchor="middle" textLength="7.8" lengthAdjust="spacingAndGlyphs"  stroke="#151515" stroke-width="0.5">8</text>
<text x="904.36" y="763.17" font-family="'Liberation Sans', sans-serif" font-size="27.37" font-weight="bold" fill="#151515" text-anchor="middle" textLength="74.8" lengthAdjust="spacingAndGlyphs"  stroke="#151515" stroke-width="0.55" stroke-linejoin="round">SHOP</text>
<path d="M862.35 766.56 L941.75 766.56" fill="none" stroke="#151515" stroke-width="2.6" stroke-linecap="butt" stroke-linejoin="miter"/>
<text x="227.41" y="150.83" font-family="'Liberation Sans', sans-serif" font-size="22.91" font-weight="normal" fill="#303030" text-anchor="middle" textLength="403" lengthAdjust="spacingAndGlyphs" stroke="#303030" stroke-width="0.5">8' WIDE WRAPAROUND PORCH</text>
<text x="180.03" y="173.77" font-family="'Liberation Sans', sans-serif" font-size="22.91" font-weight="normal" fill="#303030" text-anchor="middle" textLength="308.5" lengthAdjust="spacingAndGlyphs" stroke="#303030" stroke-width="0.5">W/STAMPED CONCRETE</text>
<text transform="translate(938.48 306.35) rotate(-90)" x="0" y="0" font-family="'Liberation Sans', sans-serif" font-size="23.74" font-weight="normal" fill="#303030" text-anchor="middle" textLength="310" lengthAdjust="spacingAndGlyphs" stroke="#303030" stroke-width="0.2">W/STAMPED CONCRETE</text>
<text transform="translate(965.74 259.24) rotate(-90)" x="0" y="0" font-family="'Liberation Sans', sans-serif" font-size="23.74" font-weight="normal" fill="#303030" text-anchor="middle" textLength="403.5" lengthAdjust="spacingAndGlyphs" stroke="#303030" stroke-width="0.2">8' WIDE WRAPAROUND PORCH</text>
<text x="255.75" y="325.79" font-family="'Liberation Sans', sans-serif" font-size="22.35" font-weight="normal" fill="#303030" text-anchor="middle" textLength="118" lengthAdjust="spacingAndGlyphs" stroke="#303030" stroke-width="0.5">VAULTED</text>
<text x="227.8" y="562.24" font-family="'Liberation Sans', sans-serif" font-size="22.35" font-weight="normal" fill="#303030" text-anchor="middle" textLength="116.3" lengthAdjust="spacingAndGlyphs" stroke="#303030" stroke-width="0.5">VAULTED</text>
<text x="414.64" y="273.66" font-family="'Liberation Sans', sans-serif" font-size="19.55" font-weight="normal" fill="#303030" text-anchor="middle" textLength="67.2" lengthAdjust="spacingAndGlyphs" stroke="#303030" stroke-width="0.5">ENTRY</text>
<text x="530.93" y="467.71" font-family="'Liberation Sans', sans-serif" font-size="17.74" font-weight="normal" fill="#303030" text-anchor="middle" textLength="63.5" lengthAdjust="spacingAndGlyphs" stroke="#303030" stroke-width="0.5">GUEST</text>
<text x="529.65" y="337.3" font-family="'Liberation Sans', sans-serif" font-size="12.85" font-weight="normal" fill="#252525" text-anchor="middle" textLength="89.5" lengthAdjust="spacingAndGlyphs"  stroke="#252525" stroke-width="0.45">9'-2" X 6'-0"</text>
<text x="548.3" y="354" font-family="'Liberation Sans', sans-serif" font-size="13.97" font-weight="normal" fill="#252525" text-anchor="middle" textLength="127" lengthAdjust="spacingAndGlyphs"  stroke="#252525" stroke-width="0.45">WALK-IN CLOSET</text>
<text x="458.53" y="367.71" font-family="'Liberation Sans', sans-serif" font-size="7.54" font-weight="bold" fill="#252525" text-anchor="middle" textLength="19.6" lengthAdjust="spacingAndGlyphs" >FURN.</text>
<text x="701.14" y="294.64" font-family="'Liberation Sans', sans-serif" font-size="10.06" font-weight="normal" fill="#252525" text-anchor="middle" textLength="26" lengthAdjust="spacingAndGlyphs" stroke="#252525" stroke-width="0.7">5'-6"</text>
<text x="709.46" y="309.09" font-family="'Liberation Sans', sans-serif" font-size="10.2" font-weight="normal" fill="#252525" text-anchor="middle" textLength="44" lengthAdjust="spacingAndGlyphs" stroke="#252525" stroke-width="0.7">6'-6" X</text>
<text x="704.99" y="321.96" font-family="'Liberation Sans', sans-serif" font-size="10.2" font-weight="normal" fill="#252525" text-anchor="middle" textLength="35.2" lengthAdjust="spacingAndGlyphs" stroke="#252525" stroke-width="0.7">BATH</text>
<text x="713.71" y="335.51" font-family="'Liberation Sans', sans-serif" font-size="10.2" font-weight="normal" fill="#252525" text-anchor="middle" textLength="52.8" lengthAdjust="spacingAndGlyphs" stroke="#252525" stroke-width="0.7">MASTER</text>
<text x="781.76" y="317.08" font-family="'Liberation Sans', sans-serif" font-size="10.06" font-weight="normal" fill="#252525" text-anchor="middle" textLength="27.5" lengthAdjust="spacingAndGlyphs" stroke="#252525" stroke-width="0.7">8'-6"</text>
<text x="790.18" y="331.53" font-family="'Liberation Sans', sans-serif" font-size="10.2" font-weight="normal" fill="#252525" text-anchor="middle" textLength="44.5" lengthAdjust="spacingAndGlyphs" stroke="#252525" stroke-width="0.7">5'-0" X</text>
<text x="670.71" y="280.37" font-family="'Liberation Sans', sans-serif" font-size="6.98" font-weight="bold" fill="#252525" text-anchor="middle" textLength="15" lengthAdjust="spacingAndGlyphs" >LIN</text>
<text x="633.25" y="454.97" font-family="'Liberation Sans', sans-serif" font-size="13.97" font-weight="bold" fill="#252525" text-anchor="middle" textLength="36" lengthAdjust="spacingAndGlyphs"  stroke="#252525" stroke-width="0.5">LINEN</text>
<text x="355.99" y="627.75" font-family="'Liberation Sans', sans-serif" font-size="7.82" font-weight="bold" fill="#252525" text-anchor="middle" textLength="31.4" lengthAdjust="spacingAndGlyphs" stroke="#252525" stroke-width="0.6">PANTRY</text>
<text x="555.89" y="665.85" font-family="'Liberation Sans', sans-serif" font-size="6.42" font-weight="bold" fill="#252525" text-anchor="middle" textLength="11.6" lengthAdjust="spacingAndGlyphs" stroke="#252525" stroke-width="0.7">W.H.</text>
<text transform="translate(366.99 536.96) rotate(-90)" x="0" y="0" font-family="'Liberation Sans', sans-serif" font-size="20.39" font-weight="normal" fill="#252525" text-anchor="middle" textLength="65.5" lengthAdjust="spacingAndGlyphs" stroke="#252525" stroke-width="0.6">ISLAND</text>
<text x="556.99" y="547.25" font-family="'Liberation Sans', sans-serif" font-size="15.36" font-weight="bold" fill="#151515" text-anchor="middle" textLength="18.5" lengthAdjust="spacingAndGlyphs"  stroke="#151515" stroke-width="0.5">W</text>
<text x="591.24" y="547.44" font-family="'Liberation Sans', sans-serif" font-size="15.36" font-weight="bold" fill="#151515" text-anchor="middle" textLength="15" lengthAdjust="spacingAndGlyphs"  stroke="#151515" stroke-width="0.5">D</text>
<text x="509.36" y="524.99" font-family="'Liberation Serif', sans-serif" font-size="27.23" font-weight="normal" fill="#8a8a8a" text-anchor="middle" textLength="271" lengthAdjust="spacingAndGlyphs" fill-opacity="0.55">+7 (495) 363 02 63</text>
<text x="512.13" y="567.21" font-family="'Liberation Serif', sans-serif" font-size="32.12" font-weight="normal" fill="#8a8a8a" text-anchor="middle" textLength="203" lengthAdjust="spacingAndGlyphs" fill-opacity="0.55">www.vistroy.ru</text>
<text x="510.95" y="482.5" font-family="'Liberation Sans', sans-serif" font-size="62.85" font-weight="normal" fill="#a8a8a8" text-anchor="middle" textLength="372.3" lengthAdjust="spacingAndGlyphs" fill-opacity="0.55">ПРОВЕКТО</text>
</g>
</svg>
</body>
</html>
